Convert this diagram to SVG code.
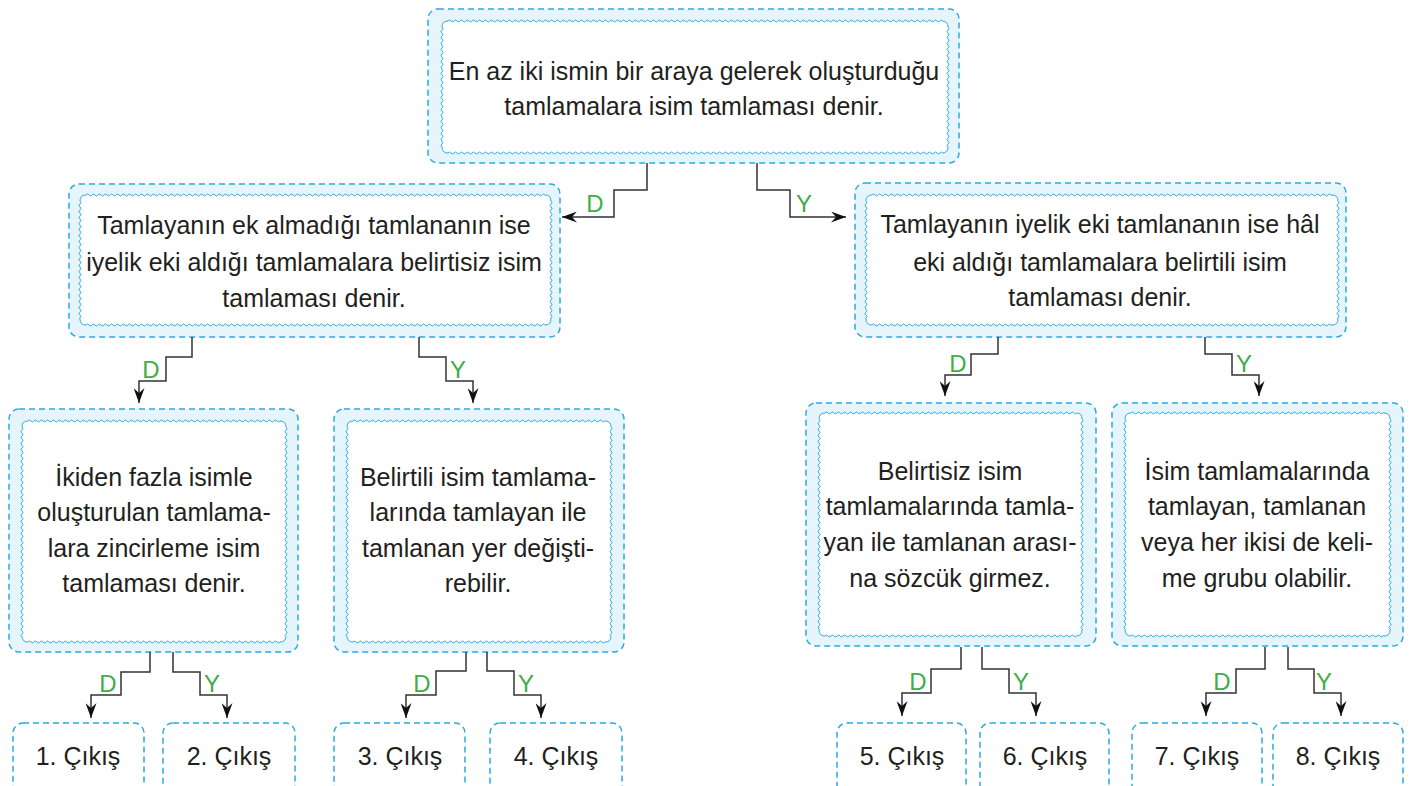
<svg xmlns="http://www.w3.org/2000/svg" width="1418" height="786" viewBox="0 0 1418 786">
<style>
.outer{fill:#e6f5fc;stroke:#29abe2;stroke-width:1.5;stroke-dasharray:6 4}
.out{fill:none;stroke:#29abe2;stroke-width:1.5;stroke-dasharray:6 4}
.inner{fill:#fff}
.corner{fill:none;stroke:#29abe2;stroke-width:1}
.t{font-family:"Liberation Sans",Arial,sans-serif;font-size:25px;fill:#231f20;text-anchor:middle}
.lbl{font-family:"Liberation Sans",Arial,sans-serif;font-size:24px;fill:#3fae49;text-anchor:middle}
.c{fill:none;stroke:#333;stroke-width:1.5;marker-end:url(#arr)}
</style>
<defs>
<pattern id="wh" patternUnits="userSpaceOnUse" width="6" height="4">
<path d="M0,2 Q1.5,0 3,2 T6,2" fill="none" stroke="#29abe2" stroke-width="1"/>
</pattern>
<marker id="arr" markerUnits="userSpaceOnUse" viewBox="0 0 15 11" refX="15" refY="5.5" markerWidth="15" markerHeight="11" orient="auto">
<path d="M0,0 L15,5.5 L0,11 L5,5.5 z" fill="#111"/>
</marker>
</defs>
<rect width="1418" height="786" fill="#fff"/>

<g id="node-top">
<rect class="outer" x="428" y="9" width="531" height="154" rx="10"/>
<rect class="inner" x="442" y="21" width="506" height="132" rx="6"/>
<rect transform="translate(448,19)" width="494" height="4" fill="url(#wh)"/>
<rect transform="translate(448,151)" width="494" height="4" fill="url(#wh)"/>
<rect transform="translate(444,27) rotate(90)" width="120" height="4" fill="url(#wh)"/>
<rect transform="translate(950,27) rotate(90)" width="120" height="4" fill="url(#wh)"/>
<path class="corner" d="M442,27 Q442,21 448,21 M942,21 Q948,21 948,27 M948,147 Q948,153 942,153 M448,153 Q442,153 442,147"/>
<text class="t" x="694" y="80">En az iki ismin bir araya gelerek oluşturduğu</text>
<text class="t" x="694" y="115">tamlamalara isim tamlaması denir.</text>
</g>

<g id="node-left">
<rect class="outer" x="69" y="184" width="491" height="153" rx="10"/>
<rect class="inner" x="80" y="195" width="471" height="130" rx="6"/>
<rect transform="translate(86,193)" width="459" height="4" fill="url(#wh)"/>
<rect transform="translate(86,323)" width="459" height="4" fill="url(#wh)"/>
<rect transform="translate(82,201) rotate(90)" width="118" height="4" fill="url(#wh)"/>
<rect transform="translate(553,201) rotate(90)" width="118" height="4" fill="url(#wh)"/>
<path class="corner" d="M80,201 Q80,195 86,195 M545,195 Q551,195 551,201 M551,319 Q551,325 545,325 M86,325 Q80,325 80,319"/>
<text class="t" x="314" y="234">Tamlayanın ek almadığı tamlananın ise</text>
<text class="t" x="314" y="271">iyelik eki aldığı tamlamalara belirtisiz isim</text>
<text class="t" x="314" y="307">tamlaması denir.</text>
</g>

<g id="node-right">
<rect class="outer" x="855" y="183" width="491" height="154" rx="10"/>
<rect class="inner" x="866" y="195" width="472" height="130" rx="6"/>
<rect transform="translate(872,193)" width="460" height="4" fill="url(#wh)"/>
<rect transform="translate(872,323)" width="460" height="4" fill="url(#wh)"/>
<rect transform="translate(868,201) rotate(90)" width="118" height="4" fill="url(#wh)"/>
<rect transform="translate(1340,201) rotate(90)" width="118" height="4" fill="url(#wh)"/>
<path class="corner" d="M866,201 Q866,195 872,195 M1332,195 Q1338,195 1338,201 M1338,319 Q1338,325 1332,325 M872,325 Q866,325 866,319"/>
<text class="t" x="1100" y="233">Tamlayanın iyelik eki tamlananın ise hâl</text>
<text class="t" x="1100" y="271">eki aldığı tamlamalara belirtili isim</text>
<text class="t" x="1100" y="306">tamlaması denir.</text>
</g>

<g id="node-a">
<rect class="outer" x="9" y="409" width="289" height="243" rx="10"/>
<rect class="inner" x="22" y="421" width="264" height="221" rx="6"/>
<rect transform="translate(28,419)" width="252" height="4" fill="url(#wh)"/>
<rect transform="translate(28,640)" width="252" height="4" fill="url(#wh)"/>
<rect transform="translate(24,427) rotate(90)" width="209" height="4" fill="url(#wh)"/>
<rect transform="translate(288,427) rotate(90)" width="209" height="4" fill="url(#wh)"/>
<path class="corner" d="M22,427 Q22,421 28,421 M280,421 Q286,421 286,427 M286,636 Q286,642 280,642 M28,642 Q22,642 22,636"/>
<text class="t" x="154" y="486">İkiden fazla isimle</text>
<text class="t" x="154" y="521">oluşturulan tamlama-</text>
<text class="t" x="154" y="557">lara zincirleme isim</text>
<text class="t" x="154" y="592">tamlaması denir.</text>
</g>

<g id="node-b">
<rect class="outer" x="334" y="409" width="290" height="243" rx="10"/>
<rect class="inner" x="347" y="421" width="264" height="221" rx="6"/>
<rect transform="translate(353,419)" width="252" height="4" fill="url(#wh)"/>
<rect transform="translate(353,640)" width="252" height="4" fill="url(#wh)"/>
<rect transform="translate(349,427) rotate(90)" width="209" height="4" fill="url(#wh)"/>
<rect transform="translate(613,427) rotate(90)" width="209" height="4" fill="url(#wh)"/>
<path class="corner" d="M347,427 Q347,421 353,421 M605,421 Q611,421 611,427 M611,636 Q611,642 605,642 M353,642 Q347,642 347,636"/>
<text class="t" x="478" y="486">Belirtili isim tamlama-</text>
<text class="t" x="478" y="521">larında tamlayan ile</text>
<text class="t" x="478" y="557">tamlanan yer değişti-</text>
<text class="t" x="478" y="592">rebilir.</text>
</g>

<g id="node-c">
<rect class="outer" x="806" y="403" width="290" height="243" rx="10"/>
<rect class="inner" x="819" y="413" width="263" height="223" rx="6"/>
<rect transform="translate(825,411)" width="251" height="4" fill="url(#wh)"/>
<rect transform="translate(825,634)" width="251" height="4" fill="url(#wh)"/>
<rect transform="translate(821,419) rotate(90)" width="211" height="4" fill="url(#wh)"/>
<rect transform="translate(1084,419) rotate(90)" width="211" height="4" fill="url(#wh)"/>
<path class="corner" d="M819,419 Q819,413 825,413 M1076,413 Q1082,413 1082,419 M1082,630 Q1082,636 1076,636 M825,636 Q819,636 819,630"/>
<text class="t" x="950" y="480">Belirtisiz isim</text>
<text class="t" x="950" y="515">tamlamalarında tamla-</text>
<text class="t" x="950" y="551">yan ile tamlanan arası-</text>
<text class="t" x="950" y="587">na sözcük girmez.</text>
</g>

<g id="node-d">
<rect class="outer" x="1112" y="403" width="291" height="243" rx="10"/>
<rect class="inner" x="1125" y="413" width="265" height="223" rx="6"/>
<rect transform="translate(1131,411)" width="253" height="4" fill="url(#wh)"/>
<rect transform="translate(1131,634)" width="253" height="4" fill="url(#wh)"/>
<rect transform="translate(1127,419) rotate(90)" width="211" height="4" fill="url(#wh)"/>
<rect transform="translate(1392,419) rotate(90)" width="211" height="4" fill="url(#wh)"/>
<path class="corner" d="M1125,419 Q1125,413 1131,413 M1384,413 Q1390,413 1390,419 M1390,630 Q1390,636 1384,636 M1131,636 Q1125,636 1125,630"/>
<text class="t" x="1257" y="480">İsim tamlamalarında</text>
<text class="t" x="1257" y="515">tamlayan, tamlanan</text>
<text class="t" x="1257" y="551">veya her ikisi de keli-</text>
<text class="t" x="1257" y="587">me grubu olabilir.</text>
</g>

<g id="out-1"><rect class="out" x="13" y="723" width="131" height="80" rx="10"/><text class="t" x="78" y="765">1. Çıkış</text></g>
<g id="out-2"><rect class="out" x="163" y="723" width="132" height="80" rx="10"/><text class="t" x="229" y="765">2. Çıkış</text></g>
<g id="out-3"><rect class="out" x="334" y="723" width="131" height="80" rx="10"/><text class="t" x="400" y="765">3. Çıkış</text></g>
<g id="out-4"><rect class="out" x="490" y="723" width="132" height="80" rx="10"/><text class="t" x="556" y="765">4. Çıkış</text></g>
<g id="out-5"><rect class="out" x="837" y="723" width="129" height="80" rx="10"/><text class="t" x="902" y="765">5. Çıkış</text></g>
<g id="out-6"><rect class="out" x="980" y="723" width="129" height="80" rx="10"/><text class="t" x="1045" y="765">6. Çıkış</text></g>
<g id="out-7"><rect class="out" x="1132" y="723" width="130" height="80" rx="10"/><text class="t" x="1197" y="765">7. Çıkış</text></g>
<g id="out-8"><rect class="out" x="1273" y="723" width="130" height="80" rx="10"/><text class="t" x="1338" y="765">8. Çıkış</text></g>

<g id="connectors">
<path class="c" d="M647,163 V190 H614 V217 H562"/>
<path class="c" d="M757,163 V190 H790 V217 H846"/>
<path class="c" d="M192,337 V357 H166 V381 H139 V403"/>
<path class="c" d="M419,337 V357 H446 V381 H473 V403"/>
<path class="c" d="M998,337 V354 H971 V375 H945 V396"/>
<path class="c" d="M1205,337 V354 H1232 V375 H1259 V396"/>
<path class="c" d="M150,652 V672 H121 V695 H91 V718"/>
<path class="c" d="M173,652 V672 H200 V695 H227 V718"/>
<path class="c" d="M466,652 V671 H436 V695 H406 V718"/>
<path class="c" d="M487,652 V671 H514 V695 H541 V718"/>
<path class="c" d="M961,647 V669 H931 V693 H902 V716"/>
<path class="c" d="M982,647 V669 H1009 V693 H1036 V716"/>
<path class="c" d="M1265,647 V669 H1236 V693 H1206 V716"/>
<path class="c" d="M1288,647 V669 H1314 V693 H1341 V716"/>
<text class="lbl" x="595" y="212">D</text>
<text class="lbl" x="804" y="212">Y</text>
<text class="lbl" x="151" y="378">D</text>
<text class="lbl" x="458" y="378">Y</text>
<text class="lbl" x="958" y="372">D</text>
<text class="lbl" x="1244" y="372">Y</text>
<text class="lbl" x="108" y="692">D</text>
<text class="lbl" x="212" y="692">Y</text>
<text class="lbl" x="422" y="692">D</text>
<text class="lbl" x="526" y="692">Y</text>
<text class="lbl" x="918" y="690">D</text>
<text class="lbl" x="1021" y="690">Y</text>
<text class="lbl" x="1222" y="690">D</text>
<text class="lbl" x="1324" y="690">Y</text>
</g>
</svg>
